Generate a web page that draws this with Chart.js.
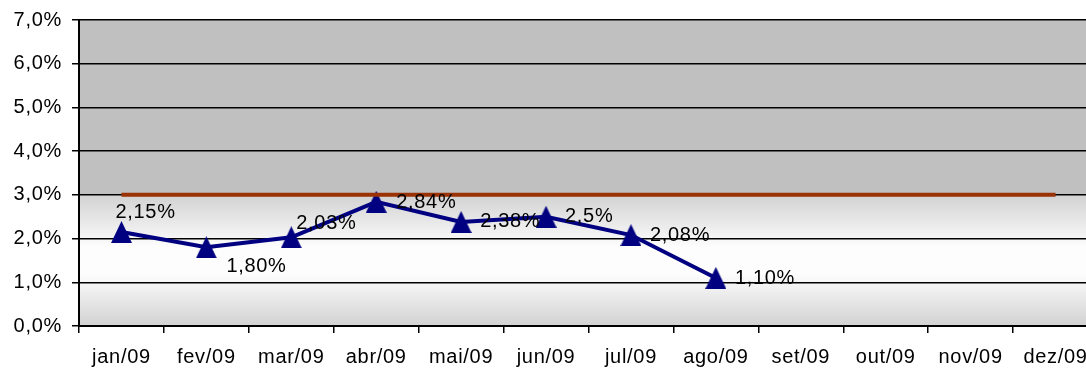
<!DOCTYPE html>
<html>
<head>
<meta charset="utf-8">
<script src="https://cdn.jsdelivr.net/npm/chart.js@4/dist/chart.umd.min.js"></script>
<style>
  html, body { margin: 0; padding: 0; background: #fff; overflow: hidden; }
  #wrap { width: 1086px; height: 369px; overflow: hidden; }
</style>
</head>
<body>
<div id="wrap"><canvas id="chart-line" width="1113" height="369"></canvas></div>
<script>
// months of 2009
var months = ['jan/09', 'fev/09', 'mar/09', 'abr/09', 'mai/09', 'jun/09',
              'jul/09', 'ago/09', 'set/09', 'out/09', 'nov/09', 'dez/09'];
// monthly rate (%), only jan..ago filled in
var rate = [2.15, 1.80, 2.03, 2.84, 2.38, 2.5, 2.08, 1.10, null, null, null, null];
var rateLabels = ['2,15%', '1,80%', '2,03%', '2,84%', '2,38%', '2,5%', '2,08%', '1,10%'];
// target line
var target = [3, 3, 3, 3, 3, 3, 3, 3, 3, 3, 3, 3];
var yMin = 0, yMax = 7, yStep = 1;

// where each value label sits relative to its point (dx, dy in px)
var labelOffsets = [[-6, -20], [20, 19], [5, -14], [20, 1], [19, 0], [19, 0], [19, 0], [19, 1]];

var FONT = { family: "'Liberation Sans', Arial, sans-serif", size: 20 };

// excel style triangle marker, centred on its box
function makeTriangle(w, h, color) {
    var c = document.createElement('canvas');
    c.width = w;
    c.height = h;
    var t = c.getContext('2d');
    t.fillStyle = color;
    t.beginPath();
    t.moveTo(w / 2, 0);
    t.lineTo(w, h);
    t.lineTo(0, h);
    t.closePath();
    t.fill();
    return c;
}
var triangle = makeTriangle(21, 22, '#000080');

var bgPlugin = {
    id: 'plotBackground',
    beforeDraw: function (chart) {
        var ctx = chart.ctx;
        ctx.letterSpacing = '0.7px';
        var a = chart.chartArea;
        var y3 = chart.scales.y.getPixelForValue(target[0]);
        ctx.save();
        // gray band above the target
        ctx.fillStyle = '#c0c0c0';
        ctx.fillRect(a.left, a.top, a.right - a.left, y3 - a.top);
        // gradient below it
        var g = ctx.createLinearGradient(0, y3, 0, a.bottom);
        g.addColorStop(0, '#d2d2d2');
        g.addColorStop(0.4, '#fdfdfd');
        g.addColorStop(0.6, '#fdfdfd');
        g.addColorStop(1, '#d2d2d2');
        ctx.fillStyle = g;
        ctx.fillRect(a.left, y3, a.right - a.left, a.bottom - y3);
        ctx.restore();
    }
};

var labelPlugin = {
    id: 'valueLabels',
    afterDatasetsDraw: function (chart) {
        var ctx = chart.ctx;
        var meta = chart.getDatasetMeta(1);
        ctx.save();
        ctx.font = FONT.size + 'px ' + FONT.family;
        ctx.fillStyle = '#000';
        ctx.textAlign = 'left';
        ctx.textBaseline = 'middle';
        meta.data.forEach(function (pt, i) {
            if (rate[i] === null || !rateLabels[i]) return;
            var off = labelOffsets[i];
            ctx.fillText(rateLabels[i], pt.x + off[0], pt.y + off[1]);
        });
        ctx.restore();
    }
};

var ctx = document.getElementById('chart-line').getContext('2d');
new Chart(ctx, {
    type: 'line',
    data: {
        labels: months,
        datasets: [{
            label: 'Meta',
            data: target,
            borderColor: '#9a3205',
            borderWidth: 4,
            pointRadius: 0,
            tension: 0,
            fill: false
        }, {
            label: 'Taxa',
            data: rate,
            borderColor: '#000080',
            backgroundColor: '#000080',
            borderWidth: 4,
            pointStyle: triangle,
            pointRadius: 11,
            tension: 0,
            spanGaps: false,
            fill: false
        }]
    },
    options: {
        responsive: false,
        animation: false,
        layout: { padding: { top: 20, right: 8, left: 0, bottom: 0 } },
        plugins: {
            legend: { display: false },
            tooltip: { enabled: false }
        },
        scales: {
            x: {
                offset: true,
                grid: {
                    offset: true,
                    display: true,
                    drawOnChartArea: false,
                    drawTicks: true,
                    tickLength: 7,
                    color: '#000',
                    lineWidth: 1.5
                },
                border: { display: true, color: '#000', width: 2 },
                ticks: {
                    color: '#000',
                    font: FONT,
                    padding: 12,
                    maxRotation: 0,
                    autoSkip: false
                },
                afterFit: function (scale) {
                    scale.height = 43;
                }
            },
            y: {
                min: yMin,
                max: yMax,
                grid: {
                    display: true,
                    drawOnChartArea: true,
                    drawTicks: true,
                    tickLength: 7,
                    color: '#000',
                    lineWidth: 1.5
                },
                border: { display: true, color: '#000', width: 2 },
                ticks: {
                    stepSize: yStep,
                    color: '#000',
                    font: FONT,
                    padding: 10,
                    callback: function (v) { return v.toFixed(1).replace('.', ',') + '%'; }
                },
                afterFit: function (scale) {
                    scale.width = 79;
                    scale.paddingTop = 0;
                    scale.paddingBottom = 0;
                }
            }
        }
    },
    plugins: [bgPlugin, labelPlugin]
});
</script>
</body>
</html>
